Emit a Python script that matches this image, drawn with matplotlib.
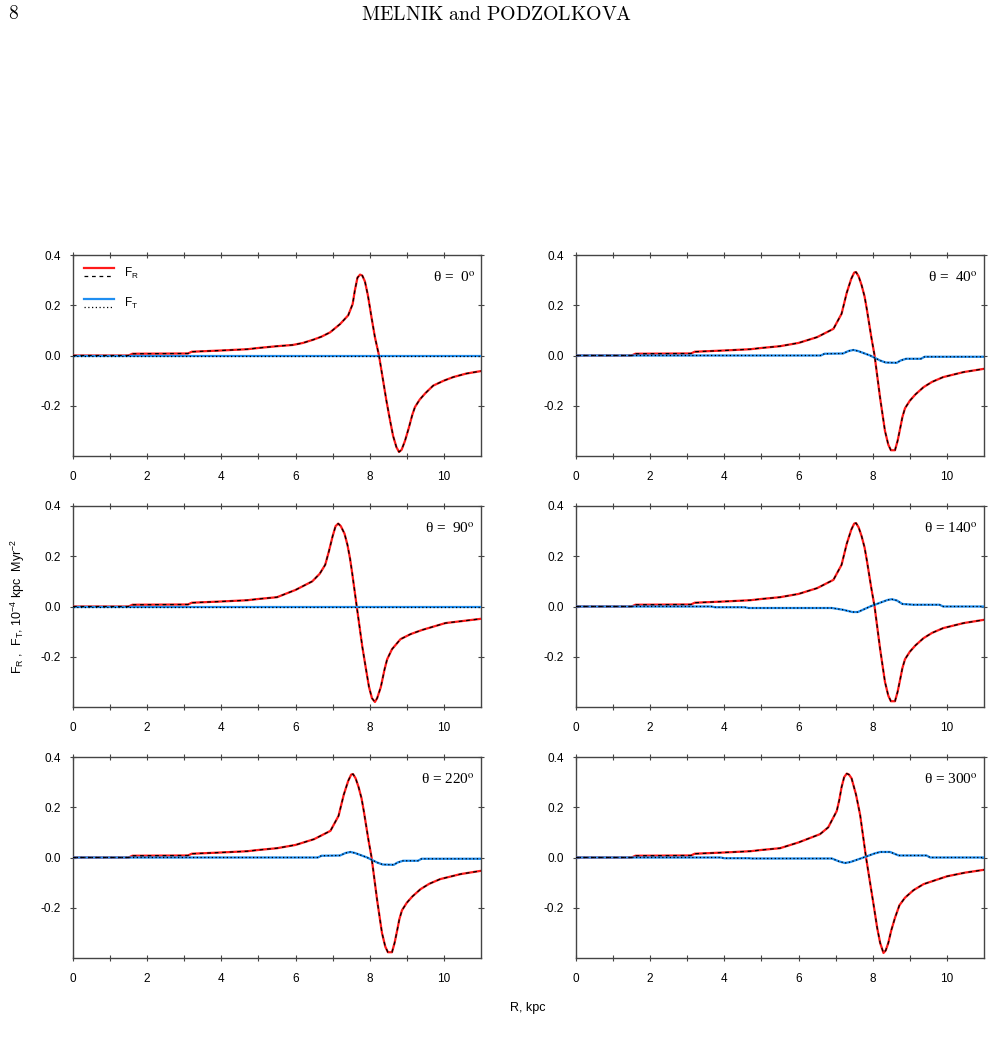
import numpy as np
import matplotlib
matplotlib.use('Agg')
import matplotlib.pyplot as plt
from matplotlib.lines import Line2D
from matplotlib.legend_handler import HandlerBase

plt.rcParams['font.family'] = ['Liberation Sans', 'DejaVu Sans']
plt.rcParams['mathtext.fontset'] = 'custom'
plt.rcParams['mathtext.rm'] = 'Liberation Sans'
plt.rcParams['mathtext.it'] = 'Liberation Sans:italic'

# --- data ---
thetas = [0, 40, 90, 140, 220, 300]

# common slow rise at small R
R_inner = [0.0, 1.5, 1.6, 3.1, 3.2, 4.0, 4.7, 5.0, 5.5]
FR_inner = [0.0, 0.0, 0.007, 0.008, 0.015, 0.02, 0.025, 0.03, 0.037]

R_fr0 = [5.93, 6.2, 6.48, 6.7, 6.93, 7.2, 7.42, 7.54, 7.6, 7.67, 7.74, 7.8, 7.87, 7.95,
         8.05, 8.14, 8.25, 8.35, 8.45, 8.55, 8.63, 8.72, 8.79, 8.86, 8.95, 9.05, 9.15,
         9.22, 9.35, 9.5, 9.71, 10.0, 10.25, 10.6, 11.0]
FR0 = [0.042, 0.05, 0.063, 0.075, 0.092, 0.125, 0.16, 0.205, 0.26, 0.31, 0.322, 0.318,
       0.295, 0.24, 0.15, 0.073, 0.0, -0.09, -0.18, -0.26, -0.32, -0.365, -0.384, -0.375,
       -0.34, -0.29, -0.235, -0.205, -0.175, -0.15, -0.12, -0.1, -0.086, -0.072, -0.062]

R_fr40 = [6.0, 6.5, 6.94, 7.16, 7.3, 7.42, 7.5, 7.55, 7.62, 7.7, 7.78, 7.84, 7.97, 8.05,
          8.2, 8.33, 8.42, 8.49, 8.6, 8.67, 8.74, 8.8, 8.87, 9.0, 9.15, 9.37, 9.6, 9.9,
          10.45, 11.0]
FR40 = [0.05, 0.073, 0.106, 0.166, 0.25, 0.305, 0.33, 0.332, 0.315, 0.28, 0.235, 0.185,
        0.066, 0.0, -0.17, -0.30, -0.355, -0.377, -0.377, -0.34, -0.29, -0.245, -0.21,
        -0.18, -0.155, -0.126, -0.105, -0.086, -0.066, -0.053]

R_fr90 = [6.0, 6.45, 6.65, 6.8, 6.9, 7.0, 7.08, 7.15, 7.22, 7.32, 7.4, 7.47, 7.53, 7.65,
          7.8, 7.9, 7.98, 8.06, 8.14, 8.2, 8.3, 8.4, 8.47, 8.6, 8.83, 9.1, 9.42, 10.04, 11.0]
FR90 = [0.066, 0.1, 0.13, 0.166, 0.22, 0.28, 0.32, 0.33, 0.32, 0.29, 0.245, 0.19, 0.13,
        0.0, -0.16, -0.25, -0.32, -0.365, -0.38, -0.365, -0.32, -0.25, -0.21, -0.17,
        -0.13, -0.11, -0.093, -0.066, -0.049]

R_fr300 = [6.0, 6.58, 6.8, 7.03, 7.1, 7.16, 7.23, 7.3, 7.36, 7.43, 7.55, 7.66, 7.82, 8.02,
           8.12, 8.2, 8.29, 8.35, 8.42, 8.5, 8.6, 8.72, 8.87, 9.1, 9.37, 10.0, 10.5, 11.0]
FR300 = [0.06, 0.093, 0.12, 0.185, 0.23, 0.28, 0.32, 0.334, 0.33, 0.315, 0.25, 0.17, 0.0,
         -0.185, -0.28, -0.34, -0.38, -0.37, -0.34, -0.29, -0.24, -0.19, -0.16, -0.13,
         -0.106, -0.075, -0.06, -0.049]

R_ft0 = [0.0, 11.0]
FT0 = [0.0, 0.0]

R_ft40 = [0.0, 6.6, 6.7, 7.2, 7.35, 7.48, 7.6, 7.93, 8.2, 8.35, 8.65, 8.75, 8.9, 9.3, 9.4, 11.0]
FT40 = [0.0, 0.0, 0.007, 0.008, 0.018, 0.022, 0.018, 0.0, -0.02, -0.028, -0.029, -0.02,
        -0.013, -0.013, -0.005, -0.005]

R_ft140 = [0.0, 3.65, 3.75, 4.55, 4.65, 6.9, 7.2, 7.45, 7.6, 7.93, 8.2, 8.4, 8.51, 8.65,
           8.8, 9.1, 9.8, 9.9, 11.0]
FT140 = [0.0, 0.0, -0.003, -0.003, -0.006, -0.006, -0.013, -0.022, -0.022, 0.0, 0.015,
         0.026, 0.029, 0.024, 0.01, 0.007, 0.007, 0.0, 0.0]

R_ft300 = [0.0, 3.9, 4.0, 4.65, 4.75, 6.9, 7.1, 7.25, 7.4, 7.75, 8.05, 8.2, 8.47, 8.6, 8.7,
           9.45, 9.55, 11.0]
FT300 = [0.0, 0.0, -0.003, -0.003, -0.004, -0.004, -0.016, -0.022, -0.018, 0.0, 0.016,
         0.022, 0.022, 0.014, 0.008, 0.008, 0.0, 0.0]

fr_sets = [(R_fr0, FR0), (R_fr40, FR40), (R_fr90, FR90), (R_fr40, FR40), (R_fr40, FR40), (R_fr300, FR300)]
ft_sets = [(R_ft0, FT0), (R_ft40, FT40), (R_ft0, FT0), (R_ft140, FT140), (R_ft40, FT40), (R_ft300, FT300)]

xticks = [0, 2, 4, 6, 8, 10]
yticks = [-0.2, 0.0, 0.2, 0.4]
ytick_labels = ['-0.2', '0.0', '0.2', '0.4']

red = '#ff1a1a'
blue = '#1f8ef1'
spine_col = '#444444'


class TwoLines(HandlerBase):
    def create_artists(self, legend, orig_handle, xdescent, ydescent,
                       width, height, fontsize, trans):
        top, bot = orig_handle
        l1 = Line2D([0, width], [0.85 * height, 0.85 * height])
        l1.update_from(top)
        l2 = Line2D([0, width], [0.05 * height, 0.05 * height])
        l2.update_from(bot)
        for l in (l1, l2):
            l.set_transform(trans)
        return [l1, l2]


fig = plt.figure(figsize=(9.91, 10.46), dpi=100)

lefts = [73 / 991, 576 / 991]
bottoms = [1 - 456 / 1046, 1 - 707 / 1046, 1 - 958 / 1046]
w = 408 / 991
h = 201 / 1046

for i, th in enumerate(thetas):
    row, col = divmod(i, 2)
    ax = fig.add_axes([lefts[col], bottoms[row], w, h])
    rfr = np.array(R_inner + fr_sets[i][0])
    vfr = np.array(FR_inner + fr_sets[i][1])
    rft, vft = ft_sets[i]

    l_fr, = ax.plot(rfr, vfr, color=red, lw=1.6, zorder=3)
    l_frm, = ax.plot(rfr, vfr, color='black', lw=0.9, ls=(0, (3, 3)), zorder=4)
    l_ft, = ax.plot(rft, vft, color=blue, lw=1.6, zorder=3)
    l_ftm, = ax.plot(rft, vft, color='black', lw=0.9, ls=(0, (1, 2)), zorder=4)

    ax.set_xlim(0, 11)
    ax.set_ylim(-0.4, 0.4)
    ax.set_xticks(xticks)
    ax.set_xticks(range(1, 11, 2), minor=True)
    ax.set_yticks(yticks)
    ax.set_yticklabels(ytick_labels)
    ax.tick_params(which='both', direction='inout', top=True, right=True,
                   length=5, width=0.8, color=spine_col, labelsize=8.5, pad=8)
    ax.tick_params(axis='y', pad=6)
    for s in ax.spines.values():
        s.set_color(spine_col)
        s.set_linewidth(1.0)

    lab = 'θ =  %d$^{\\rm o}$' % th if th < 100 else 'θ = %d$^{\\rm o}$' % th
    ax.text(0.985, 0.89, lab, transform=ax.transAxes, ha='right', va='center',
            fontsize=11, family='Liberation Serif', math_fontfamily='stix')

    if i == 0:
        ax.legend([(l_fr, l_frm), (l_ft, l_ftm)], [r'F$_{\rm R}$', r'F$_{\rm T}$'],
                  handler_map={tuple: TwoLines()}, loc='upper left', frameon=False,
                  fontsize=8.5, handlelength=2.6, handleheight=0.9, labelspacing=1.3,
                  borderaxespad=0.5, handletextpad=0.8)

fig.text(8 / 991, 1 - 14 / 1046, r'$\mathrm{8}$', ha='left', va='center', fontsize=14,
         math_fontfamily='cm')
fig.text(497 / 991, 1 - 14 / 1046, r'$\mathrm{MELNIK\ and\ PODZOLKOVA}$', ha='center',
         va='center', fontsize=14.3, math_fontfamily='cm')
fig.text(18 / 991, 1 - 606 / 1046,
         r'F$_{\rm R}$ ,  F$_{\rm T}$, 10$^{-4}$ kpc  Myr$^{-2}$',
         rotation=90, ha='center', va='center', fontsize=9)
fig.text(528 / 991, 1 - 1008 / 1046, 'R, kpc', ha='center', va='center', fontsize=9)

fig.savefig('out.png', dpi=100)
